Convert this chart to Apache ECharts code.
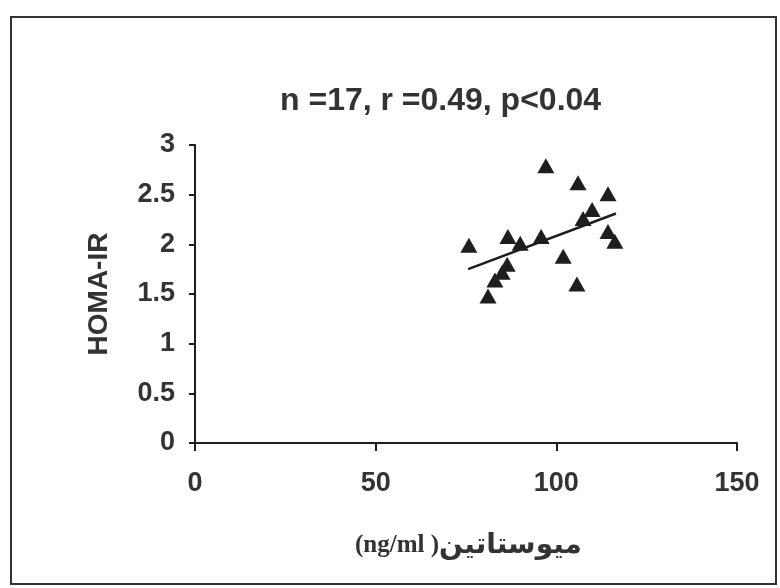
<!DOCTYPE html>
<html>
<head>
<meta charset="utf-8">
<script src="https://cdn.jsdelivr.net/npm/echarts@6/dist/echarts.min.js"></script>
<style>html,body{margin:0;padding:0;background:#fff;}#c{width:780px;height:588px;}</style>
</head>
<body>
<div id="c"></div>
<script>
// Data
var myostatin = [97.1, 106.0, 114.3, 109.9, 107.4, 114.3, 116.2, 101.9, 105.7, 95.8, 90.0, 86.6, 75.8, 86.4, 85.0, 83.0, 81.1];
var homaIR    = [2.79, 2.62, 2.51, 2.35, 2.26, 2.13, 2.03, 1.88, 1.60, 2.08, 2.01, 2.08, 1.99, 1.80, 1.72, 1.64, 1.48];
var trendX = [75.6, 116.5];
var trendY = [1.75, 2.31];
var titleText = 'n =17, r =0.49, p<0.04';
var xNameLatin = '(ng/ml )';
var xNamePersian = 'میوستاتین';
var yName = 'HOMA-IR';

var points = myostatin.map(function (x, i) { return [x, homaIR[i]]; });
var trend = trendX.map(function (x, i) { return [x, trendY[i]]; });

var ink = '#1e1e1e';
var font = 'Liberation Sans, Arial, sans-serif';
var chart = echarts.init(document.getElementById('c'), null, {renderer: 'canvas'});
chart.setOption({
  backgroundColor: '#fff',
  animation: false,
  title: {
    text: titleText,
    left: 275, top: 80,
    textStyle: {fontFamily: font, fontWeight: 'bold', fontSize: 32, color: '#333'}
  },
  grid: {left: 195, right: 43, top: 145, bottom: 145, containLabel: false},
  xAxis: {
    type: 'value', min: 0, max: 150, interval: 50,
    axisLine: {show: true, onZero: false, lineStyle: {color: ink, width: 2}},
    axisTick: {show: true, length: 8, lineStyle: {color: ink, width: 2}},
    splitLine: {show: false},
    axisLabel: {margin: 27, fontFamily: font, fontWeight: 'bold', fontSize: 27, color: '#333'}
  },
  yAxis: {
    type: 'value', min: 0, max: 3, interval: 0.5,
    axisLine: {show: true, onZero: false, lineStyle: {color: ink, width: 2}},
    axisTick: {show: true, length: 6, lineStyle: {color: ink, width: 2}},
    splitLine: {show: false},
    axisLabel: {margin: 20, fontFamily: font, fontWeight: 'bold', fontSize: 27, color: '#333'},
    name: yName, nameLocation: 'middle', nameGap: 82, nameRotate: 90,
    nameTextStyle: {fontFamily: font, fontWeight: 'bold', fontSize: 28, color: '#333'}
  },
  graphic: [
    {type: 'rect', shape: {x: 11, y: 17, width: 765, height: 567}, style: {fill: 'none', stroke: '#333', lineWidth: 2}, z: -1},
    {type: 'text', left: 355, top: 532, style: {
      text: '{a|' + xNameLatin + '}{b|' + xNamePersian + '}',
      rich: {
        a: {font: 'bold 25px "Liberation Serif", serif', fill: '#333'},
        b: {font: 'bold 28px "DejaVu Sans", sans-serif', fill: '#333'}
      }
    }}
  ],
  series: [
    {type: 'scatter', data: points, symbol: 'triangle', symbolSize: [17, 15], itemStyle: {color: ink, opacity: 1}, z: 3},
    {type: 'line', data: trend, symbol: 'none', lineStyle: {color: ink, width: 2.5}, z: 4}
  ]
});
</script>
</body>
</html>
